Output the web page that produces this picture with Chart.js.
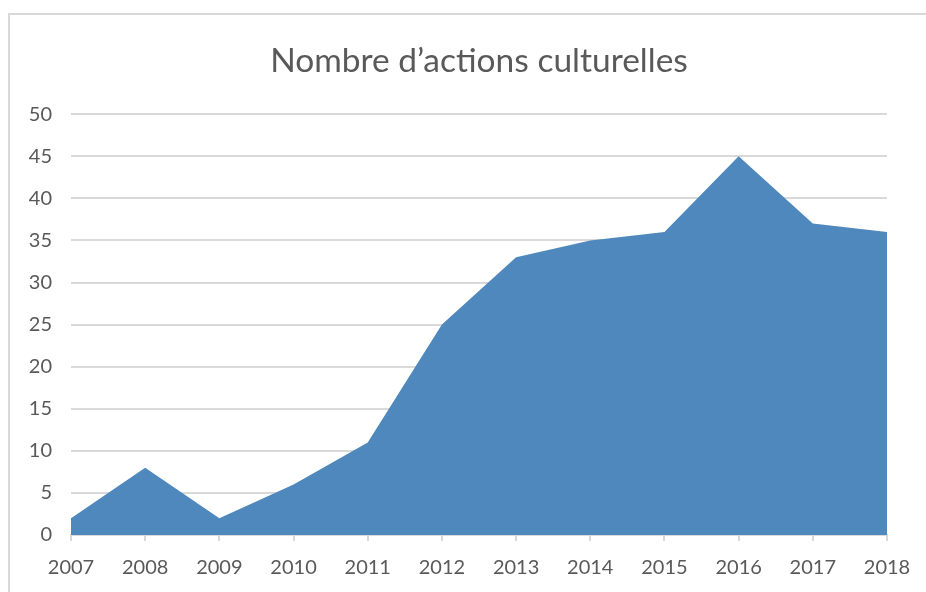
<!DOCTYPE html>
<html lang="fr">
<head>
    <meta charset="UTF-8">
    <title>Nombre d'actions culturelles</title>
    <script src="https://cdn.jsdelivr.net/npm/chart.js"></script>
    <style>
        body {
            margin: 0;
            background: #fff;
            overflow: hidden;
        }
        .frame {
            position: absolute;
            left: 8px;
            top: 13px;
            width: 940px;
            height: 600px;
            border-left: 2px solid #d9d9d9;
            border-top: 2px solid #d9d9d9;
        }
        .chart-box {
            position: absolute;
            left: 0;
            top: 0;
            width: 926px;
            height: 592px;
        }
    </style>
</head>
<body>
    <div class="frame"></div>
    <div class="chart-box">
        <canvas id="areaChart"></canvas>
    </div>

    <script>
        const years = ["2007", "2008", "2009", "2010", "2011", "2012", "2013", "2014", "2015", "2016", "2017", "2018"];
        const actions = [2, 8, 2, 6, 11, 25, 33, 35, 36, 45, 37, 36];
        const yTicks = [0, 5, 10, 15, 20, 25, 30, 35, 40, 45, 50];

        const textColor = "#595959";
        const gridColor = "#d9d9d9";

        new Chart(document.getElementById("areaChart").getContext("2d"), {
            type: "line",
            data: {
                labels: years,
                datasets: [{
                    label: "Nombre d'actions culturelles",
                    data: actions,
                    fill: "origin",
                    backgroundColor: "#4f88bc",
                    borderColor: "#4f88bc",
                    borderWidth: 0,
                    pointRadius: 0,
                    tension: 0
                }]
            },
            options: {
                responsive: true,
                maintainAspectRatio: false,
                animation: false,
                layout: { padding: { left: 0, right: 39, top: 0, bottom: 0 } },
                scales: {
                    x: {
                        offset: false,
                        grid: {
                            drawOnChartArea: false,
                            drawTicks: true,
                            tickLength: 6,
                            color: gridColor,
                            lineWidth: 2
                        },
                        border: { display: true, color: gridColor, width: 2 },
                        ticks: {
                            color: textColor,
                            font: { family: "Lato", size: 20 },
                            padding: 15,
                            maxRotation: 0,
                            autoSkip: false
                        },
                        afterFit: scale => { scale.height = 57; }
                    },
                    y: {
                        min: 0,
                        max: 50,
                        afterBuildTicks: scale => { scale.ticks = yTicks.map(v => ({ value: v })); },
                        grid: { color: gridColor, lineWidth: 2, drawTicks: false },
                        border: { display: false },
                        ticks: {
                            color: textColor,
                            font: { family: "Lato", size: 20 },
                            padding: 19
                        },
                        afterFit: scale => { scale.width = 71; }
                    }
                },
                plugins: {
                    legend: { display: false },
                    tooltip: { enabled: false },
                    title: {
                        display: true,
                        fullSize: false, // centre over the plot area
                        text: "Nombre d’actions culturelles",
                        color: textColor,
                        font: { family: "Lato", size: 33.5, weight: "normal" },
                        padding: { top: 41, bottom: 33 }
                    }
                }
            }
        });
    </script>
</body>
</html>
